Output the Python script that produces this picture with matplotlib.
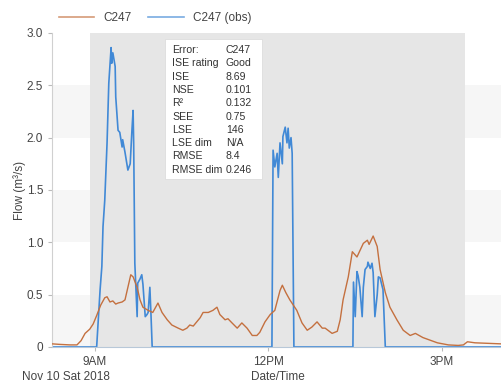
#!/usr/bin/env python3
"""Modelled vs observed flow at C247, Nov 10 2018."""

import matplotlib
matplotlib.use("Agg")
import matplotlib.pyplot as plt
from matplotlib.lines import Line2D

plt.rcParams["font.family"] = ["Liberation Sans", "DejaVu Sans"]

# time in hours of the day
model_t = [8.26, 8.39, 8.57, 8.69, 8.76, 8.83, 8.91, 8.97, 9.03, 9.10, 9.17, 9.21,
           9.26, 9.31, 9.36, 9.40, 9.47, 9.52, 9.57, 9.62, 9.66, 9.73, 9.78, 9.83,
           9.92, 10.00, 10.09, 10.16, 10.25, 10.33, 10.44, 10.52, 10.59, 10.64, 10.70,
           10.76, 10.82, 10.87, 10.96, 11.04, 11.11, 11.16, 11.25, 11.30, 11.37, 11.46,
           11.54, 11.63, 11.72, 11.80, 11.85, 11.94, 12.03, 12.11, 12.20, 12.24, 12.30,
           12.37, 12.49, 12.58, 12.67, 12.75, 12.84, 12.93, 12.98, 13.10, 13.19, 13.24,
           13.29, 13.38, 13.45, 13.53, 13.64, 13.71, 13.74, 13.81, 13.88, 13.93, 14.02,
           14.10, 14.22, 14.33, 14.45, 14.54, 14.67, 14.92, 15.11, 15.28, 15.37, 15.44,
           15.57, 16.02]
model_q = [0.03, 0.025, 0.02, 0.02, 0.06, 0.13, 0.17, 0.22, 0.30, 0.40, 0.47, 0.48,
           0.43, 0.44, 0.41, 0.42, 0.43, 0.45, 0.57, 0.69, 0.67, 0.57, 0.45, 0.38,
           0.35, 0.33, 0.42, 0.33, 0.26, 0.21, 0.18, 0.16, 0.18, 0.21, 0.20,
           0.24, 0.28, 0.33, 0.33, 0.35, 0.38, 0.31, 0.26, 0.27, 0.23, 0.18,
           0.23, 0.18, 0.11, 0.11, 0.14, 0.24, 0.31, 0.35, 0.54, 0.59, 0.52,
           0.45, 0.35, 0.23, 0.16, 0.19, 0.24, 0.18, 0.18, 0.13, 0.15, 0.26,
           0.45, 0.67, 0.91, 0.86, 0.99, 1.02, 0.98, 1.06, 0.96, 0.74, 0.52,
           0.38, 0.26, 0.16, 0.11, 0.13, 0.09, 0.04, 0.02, 0.015, 0.02, 0.05,
           0.04, 0.03]

obs_t = [8.26, 9.03, 9.09, 9.12, 9.14, 9.17, 9.21, 9.24, 9.28, 9.29, 9.31, 9.35,
         9.36, 9.40, 9.43, 9.47, 9.48, 9.52, 9.57, 9.61, 9.64, 9.66, 9.67, 9.69,
         9.73, 9.74, 9.78, 9.81, 9.83, 9.87, 9.90, 9.92, 9.95, 9.97, 9.99,
         12.06, 12.08, 12.11, 12.15, 12.17, 12.20, 12.24, 12.25, 12.29, 12.32, 12.34,
         12.36, 12.39, 12.41, 12.44,
         13.46, 13.47, 13.50, 13.53, 13.55, 13.58, 13.62, 13.64, 13.67, 13.71, 13.72,
         13.76, 13.79, 13.81, 13.84, 13.88, 13.90, 13.93, 13.97, 13.98, 14.02, 16.02]
obs_q = [0, 0, 0.55, 0.77, 1.15, 1.40, 1.95, 2.52, 2.86, 2.71, 2.81, 2.68,
         2.39, 2.07, 2.05, 1.91, 1.98, 1.86, 1.69, 1.75, 2.07, 2.26, 1.95, 0.80,
         0.29, 0.61, 0.65, 0.69, 0.60, 0.29, 0.31, 0.33, 0.57, 0.30, 0,
         0, 1.88, 1.72, 1.85, 1.62, 1.95, 1.75, 2.01, 2.10, 1.95, 2.09,
         1.90, 2.00, 1.85, 0,
         0, 0.62, 0.29, 0.72, 0.68, 0.57, 0.29, 0.57, 0.74, 0.77, 0.81,
         0.75, 0.80, 0.71, 0.29, 0.50, 0.67, 0.66, 0.57, 0.55, 0, 0]

stats_names = ["Error:", "ISE rating", "ISE", "NSE", "R²", "SEE", "LSE",
               "LSE dim", "RMSE", "RMSE dim"]
stats_vals = ["C247", "Good", "8.69", "0.101", "0.132", "0.75", "146",
              "N/A", "8.4", "0.246"]

x_ticks = [9, 12, 15]
x_labels = ["9AM", "12PM", "3PM"]
y_ticks = [0, 0.5, 1.0, 1.5, 2.0, 2.5, 3.0]
y_labels = ["0", "0.5", "1.0", "1.5", "2.0", "2.5", "3.0"]

C_MODEL = "#c4703f"
C_OBS = "#4189d6"
TXT = "#444444"

fig = plt.figure(figsize=(5.01, 3.83), dpi=100)
ax = fig.add_axes([0.104, 0.094, 0.896, 0.820])
ax.set_xlim(8.26, 16.02)
ax.set_ylim(0, 3.0)

# alternating background bands + highlighted period
for lo in (0.0, 1.0, 2.0):
    ax.axhspan(lo, lo + 0.5, color="#f6f6f6", zorder=0, lw=0)
ax.axvspan(8.91, 15.40, color="#e6e6e6", zorder=0.5, lw=0)

ax.plot(model_t, model_q, color=C_MODEL, lw=1.0, zorder=3)
ax.plot(obs_t, obs_q, color=C_OBS, lw=1.2, zorder=2)

ax.set_xticks(x_ticks)
ax.set_xticklabels(x_labels)
ax.set_yticks(y_ticks)
ax.set_yticklabels(y_labels)
ax.tick_params(axis="both", colors="#bbbbbb", labelcolor=TXT, labelsize=8.5, length=3)
for side in ("top", "right"):
    ax.spines[side].set_visible(False)
ax.spines["left"].set_color("#d0d0d0")
ax.spines["bottom"].set_color("#b8c8d8")
ax.set_ylabel("Flow (m³/s)", color=TXT, fontsize=8.5)
ax.yaxis.set_label_coords(-0.058, 0.5)

fig.text(66 / 501, 1 - 377 / 383, "Nov 10 Sat 2018", ha="center", va="center",
         color=TXT, fontsize=8.5)
fig.text(278 / 501, 1 - 377 / 383, "Date/Time", ha="center", va="center",
         color=TXT, fontsize=8.5)

# legend
handles = [Line2D([], [], color=C_MODEL, lw=1.2, alpha=0.7),
           Line2D([], [], color=C_OBS, lw=1.2, alpha=0.7)]
fig.legend(handles, ["C247", "C247 (obs)"], ncol=2, frameon=False,
           loc="center left", bbox_to_anchor=(48 / 501, 1 - 18 / 383),
           fontsize=8.5, handlelength=3.0, handletextpad=0.8, columnspacing=1.4,
           labelcolor=TXT)

# stats box
box_l, box_t, box_w, box_h = 165, 39, 97, 140
fig.patches.append(plt.Rectangle((box_l / 501, 1 - (box_t + box_h) / 383),
                                 box_w / 501, box_h / 383, transform=fig.transFigure,
                                 facecolor="white", edgecolor="#dddddd", lw=0.6,
                                 zorder=5))
for i, (n, v) in enumerate(zip(stats_names, stats_vals)):
    yy = 1 - (50 + i * 13.3) / 383
    fig.text(172 / 501, yy, n, ha="left", va="center", fontsize=7.6, color="#333333",
             zorder=6)
    fig.text(226 / 501, yy, v, ha="left", va="center", fontsize=7.6, color="#333333",
             zorder=6)

fig.savefig("out.png", dpi=100)
